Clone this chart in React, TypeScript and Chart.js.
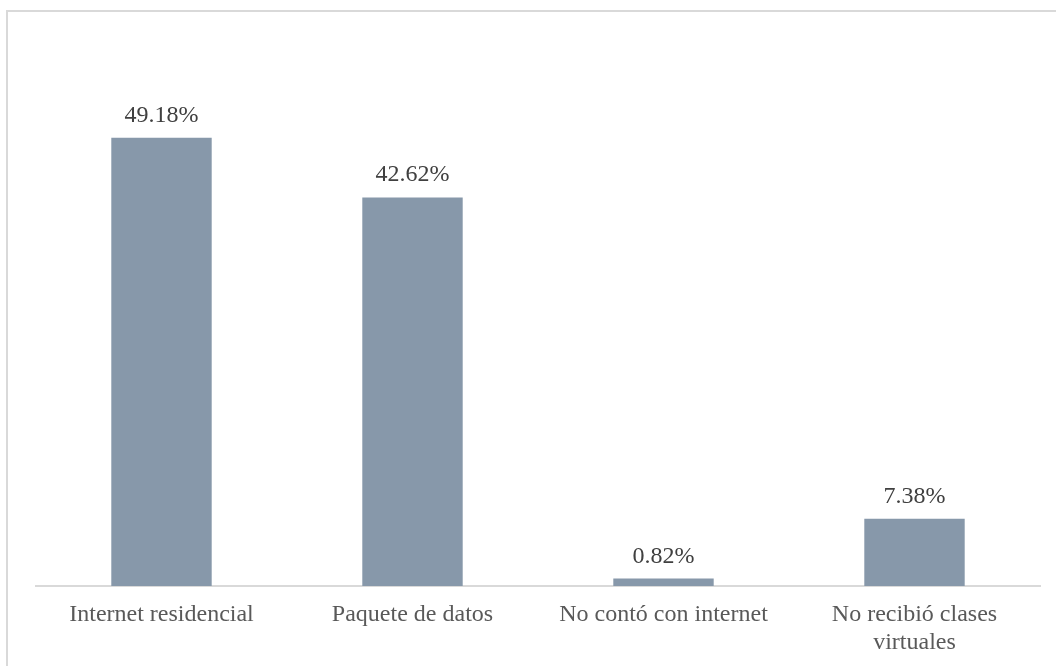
import React, { useEffect, useRef } from "react";
import { Chart, registerables } from "chart.js";

Chart.register(...registerables);

const categories: (string | string[])[] = [
  "Internet residencial",
  "Paquete de datos",
  "No contó con internet",
  ["No recibió clases", "virtuales"],
];
const shares: number[] = [49.18, 42.62, 0.82, 7.38];
const shareLabels: string[] = ["49.18%", "42.62%", "0.82%", "7.38%"];

const FONT = "'Liberation Serif', 'Times New Roman', serif";

// Light gray frame along the top and left edges of the figure
const framePlugin = {
  id: "frame",
  beforeDraw(chart: Chart) {
    const ctx = chart.ctx;
    ctx.save();
    ctx.fillStyle = "#ffffff";
    ctx.fillRect(0, 0, chart.width, chart.height);
    ctx.strokeStyle = "#d9d9d9";
    ctx.lineWidth = 2;
    ctx.beginPath();
    ctx.moveTo(7, chart.height);
    ctx.lineTo(7, 11);
    ctx.lineTo(chart.width, 11);
    ctx.stroke();
    ctx.restore();
  },
};

// Percentage text above each bar
const valueLabelPlugin = {
  id: "valueLabels",
  afterDatasetsDraw(chart: Chart) {
    const ctx = chart.ctx;
    const meta = chart.getDatasetMeta(0);
    ctx.save();
    ctx.font = `24px ${FONT}`;
    ctx.fillStyle = "#404040";
    ctx.textAlign = "center";
    ctx.textBaseline = "alphabetic";
    meta.data.forEach((bar: any, i: number) => {
      ctx.fillText(shareLabels[i], bar.x, bar.y - 16);
    });
    ctx.restore();
  },
};

export default function App() {
  const canvasRef = useRef<HTMLCanvasElement | null>(null);

  useEffect(() => {
    if (!canvasRef.current) return;
    const chart = new Chart(canvasRef.current, {
      type: "bar",
      data: {
        labels: categories,
        datasets: [
          {
            data: shares,
            backgroundColor: "#8798aa",
            borderWidth: 0,
            barPercentage: 0.8,
            categoryPercentage: 0.5,
          },
        ],
      },
      options: {
        responsive: false,
        animation: false,
        layout: { padding: { left: 36, right: 16, top: 39, bottom: 0 } },
        plugins: {
          legend: { display: false },
          tooltip: { enabled: false },
        },
        scales: {
          x: {
            grid: { display: false, drawTicks: false },
            border: { display: true, color: "#d9d9d9", width: 2 },
            ticks: {
              color: "#595959",
              font: { family: FONT, size: 24 },
              padding: 14,
              maxRotation: 0,
              autoSkip: false,
            },
            afterFit(scale: any) {
              scale.height = 80;
            },
          },
          y: {
            display: false,
            min: 0,
            max: 60,
          },
        },
      },
      plugins: [framePlugin, valueLabelPlugin],
    });
    return () => chart.destroy();
  }, []);

  return (
    <div style={{ position: "absolute", left: 0, top: 0, width: 1056, height: 666 }}>
      <canvas ref={canvasRef} width={1056} height={666} />
    </div>
  );
}
